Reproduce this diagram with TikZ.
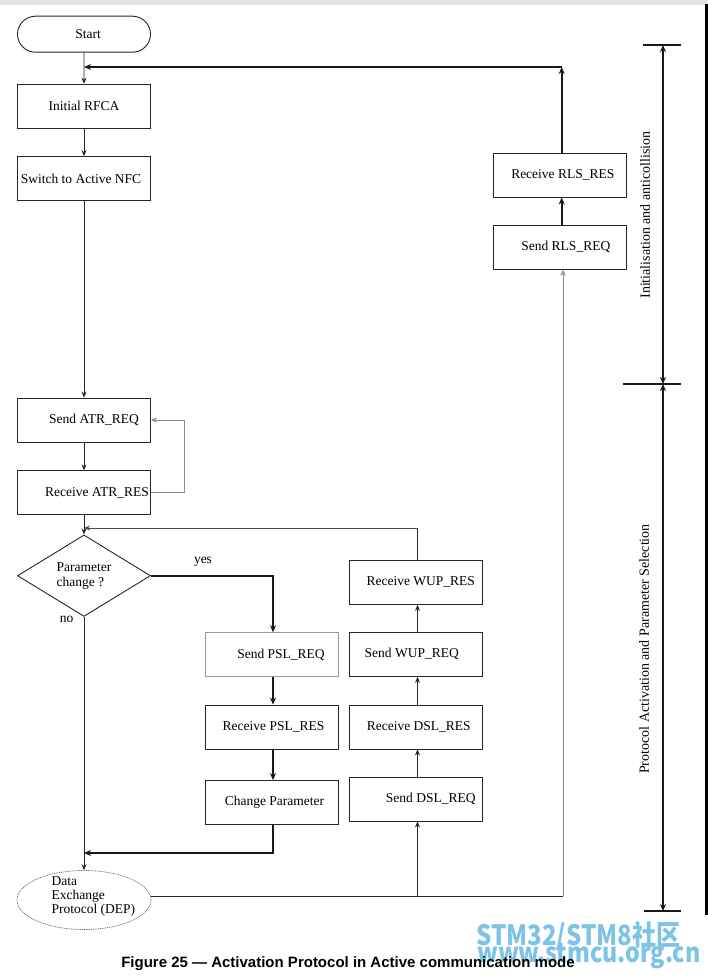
\documentclass[tikz,border=0pt]{standalone}
\usepackage{fontspec}
\setmainfont{Liberation Serif}
\newfontfamily\capfont{Liberation Sans}
\newfontfamily\cjkfont{Noto Sans CJK SC}
\usetikzlibrary{arrows.meta,shapes.geometric,shapes.misc}
\definecolor{wmblue}{RGB}{125,195,230}
\begin{document}
\begin{tikzpicture}[x=1pt,y=-1pt,
  box/.style={draw=black!85, line width=0.9pt, minimum width=133pt, minimum height=44pt, inner sep=0pt, font=\fontsize{13.5}{15}\selectfont},
  graybox/.style={box, draw=black!40},
  conn/.style={draw=black!85, line width=0.8pt, -{Stealth[length=6pt,width=5pt]}},
  thickconn/.style={draw=black!90, line width=1.7pt, -{Stealth[length=7pt,width=6pt]}},
  grayconn/.style={draw=black!45, line width=0.8pt, -{Stealth[length=6pt,width=5pt]}},
  plainline/.style={draw=black!85, line width=0.8pt},
  barline/.style={draw=black!90, line width=1.8pt},
  tick/.style={draw=black!90, line width=1.3pt},
  vlabel/.style={rotate=90, font=\fontsize{14}{16}\selectfont},
]
\useasboundingbox (0,0) rectangle (708,979);
\fill[white] (0,0) rectangle (708,979);
\fill[black!10] (0,0) rectangle (708,5);
\draw[line width=3pt] (706.5,4) -- (706.5,915);

% nodes left column
\node[rounded rectangle, draw=black!85, line width=0.9pt, minimum width=133pt, minimum height=36pt, inner sep=0pt, font=\fontsize{13.5}{15}\selectfont] (start) at (84,34.2) {\hspace*{8pt}Start};
\node[box] (rfca) at (84,106.2) {Initial RFCA};
\node[box] (nfc) at (84,178.6) {Switch to Active NFC\hspace*{6pt}};
\node[box] (satr) at (84,420) {\hspace*{20pt}Send ATR\_REQ};
\node[box] (ratr) at (84,492.8) {\hspace*{26pt}Receive ATR\_RES};
\node[diamond, draw=black!85, line width=0.9pt, minimum width=133pt, minimum height=64pt, inner sep=0pt, align=left, font=\fontsize{13.5}{15}\selectfont] (dia) at (84,575.7) {Parameter\\change ?};
\node[font=\fontsize{13.5}{15}\selectfont] (yes) at (203,561.5) {yes};
\node[font=\fontsize{13.5}{15}\selectfont] (no) at (66.5,619.5) {no};
\node[ellipse, draw=black!60, dash pattern=on 1pt off 0.8pt, line width=0.7pt, minimum width=134pt, minimum height=59pt, inner sep=0pt] (dep) at (84,900) {};
\node[align=left, anchor=west, font=\fontsize{13.5}{14}\selectfont] (deptext) at (48,897) {Data\\Exchange\\Protocol (DEP)};

% middle column
\node[graybox] (spsl) at (271.5,654.7) {\hspace*{19pt}Send PSL\_REQ};
\node[box] (rpsl) at (271.5,727) {\hspace*{4pt}Receive PSL\_RES};
\node[box] (chp) at (271.5,802.5) {\hspace*{6pt}Change Parameter};

% right column
\node[box] (rwup) at (415.8,582.3) {\hspace*{10pt}Receive WUP\_RES};
\node[box] (swup) at (415.8,654.3) {Send WUP\_REQ\hspace*{8pt}};
\node[box] (rdsl) at (415.8,727) {\hspace*{6pt}Receive DSL\_RES};
\node[box] (sdsl) at (415.8,799) {\hspace*{30pt}Send DSL\_REQ};

% far right column
\node[box] (rres) at (559.8,175) {\hspace*{6pt}Receive RLS\_RES};
\node[box] (sreq) at (559.8,247.3) {\hspace*{12pt}Send RLS\_REQ};

% coordinates
\coordinate (topc) at (561.7,67);
\coordinate (topl) at (84,67);
\coordinate (wupc) at (417.5,528);
\coordinate (wupl) at (84,528);
\coordinate (chl) at (84,853);
\coordinate (br) at (563,896);
\coordinate (bm) at (417.5,896);

% connectors
\draw[conn] (start) -- (rfca);
\draw[thickconn] (rres.north -| topc) -- (topc);
\draw[thickconn] (topc) -- (topl);
\draw[conn] (rfca) -- (nfc);
\draw[conn] (nfc) -- (satr);
\draw[conn] (satr) -- (ratr);
\draw[grayconn] (ratr.east) -- ++(33,0) |- (satr.east);
\draw[conn] (ratr) -- (dia);
\draw[plainline] (rwup.north -| wupc) -- (wupc);
\draw[grayconn, draw=black!70] (wupc) -- (wupl);
\draw[thickconn] (dia.east) -| ([xshift=1.5pt]spsl.north);
\draw[thickconn] ([xshift=1.5pt]spsl.south) -- ([xshift=1.5pt]rpsl.north);
\draw[thickconn] ([xshift=1.5pt]rpsl.south) -- ([xshift=1.5pt]chp.north);
\draw[thickconn] ([xshift=1.5pt]chp.south) |- (chl);
\draw[conn] (dia.south) -- (dep.north);
\draw[plainline] ([yshift=4pt]dep.east) -- (br);
\draw[grayconn] (br) -- (sreq.south -| br);
\draw[conn] (bm) -- (sdsl.south -| bm);
\draw[conn] (sdsl.north -| bm) -- (rdsl.south -| bm);
\draw[conn] (rdsl.north -| bm) -- (swup.south -| bm);
\draw[conn] (swup.north -| bm) -- (rwup.south -| bm);
\draw[thickconn] (sreq.north -| topc) -- (rres.south -| topc);

% right bracket
\coordinate (b1) at (663,45);
\coordinate (b2) at (663,384);
\coordinate (b3) at (663,911);
\draw[barline, {Stealth[length=7pt,width=6pt]}-{Stealth[length=7pt,width=6pt]}] (b1) -- (b2);
\draw[barline, {Stealth[length=7pt,width=6pt]}-{Stealth[length=7pt,width=6pt]}] (b2) -- (b3);
\draw[tick] (643,45) -- (681,45);
\draw[tick] (623,384) -- (681,384);
\draw[tick] (644,911) -- (681,911);
\node[vlabel] (lab1) at (645,215) {Initialisation and anticollision};
\node[vlabel] (lab2) at (644,649) {Protocol Activation and Parameter Selection};

% watermark and caption
\node[anchor=base west, inner sep=0pt, text=wmblue, font=\cjkfont\bfseries\fontsize{28}{30}\selectfont] (wm1) at (476,945) {\scalebox{0.86}[1]{STM32/STM8社区}};
\node[anchor=base west, inner sep=0pt, text=wmblue, font=\cjkfont\bfseries\fontsize{27}{30}\selectfont] (wm2) at (477,962) {\scalebox{0.86}[1]{www.stmcu.org.cn}};
\node[font=\capfont\bfseries\fontsize{15}{17}\selectfont] (cap) at (348,964) {Figure 25 — Activation Protocol in Active communication mode};
\end{tikzpicture}
\end{document}
